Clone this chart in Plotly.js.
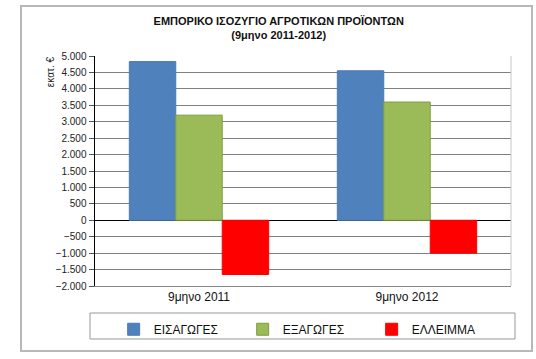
<!DOCTYPE html>
<html>
<head>
<meta charset="utf-8">
<script src="https://cdn.plot.ly/plotly-3.0.1.min.js"></script>
<style>
html,body{margin:0;padding:0;background:#fff;}
#wrap{position:relative;width:536px;height:359px;}
#chart{width:536px;height:359px;}
#frame{position:absolute;left:20px;top:5px;width:509px;height:343px;border:2px solid #b8b8b8;pointer-events:none;}
</style>
</head>
<body>
<div id="wrap"><div id="chart"></div><div id="frame"></div></div>
<script>
const categories = ["9μηνο 2011", "9μηνο 2012"];
const imports = [4830, 4550];
const exports_ = [3200, 3600];
const deficit = [-1650, -1000];
const seriesNames = ["ΕΙΣΑΓΩΓΕΣ", "ΕΞΑΓΩΓΕΣ", "ΕΛΛΕΙΜΜΑ"];

const FONT = "Liberation Sans, Arial, sans-serif";

const traces = [
  {type:'bar', name:seriesNames[0], x:categories, y:imports,
   marker:{color:'#4F81BD', line:{color:'#4A7AB5', width:1}}},
  {type:'bar', name:seriesNames[1], x:categories, y:exports_,
   marker:{color:'#9BBB59', line:{color:'#7E9E40', width:1}}},
  {type:'bar', name:seriesNames[2], x:categories, y:deficit,
   marker:{color:'#FF0000', line:{color:'#FF0000', width:1}}}
];

const layout = {
  width:536, height:359,
  margin:{l:95, r:25, t:56, b:73},
  paper_bgcolor:'#fff', plot_bgcolor:'#fff',
  font:{family:FONT, size:10, color:'#222'},
  separators:',.',
  barmode:'group', bargap:0.33, bargroupgap:0,
  showlegend:true,
  title:{text:'<b>ΕΜΠΟΡΙΚΟ ΙΣΟΖΥΓΙΟ ΑΓΡΟΤΙΚΩΝ ΠΡΟΪΟΝΤΩΝ<br>(9μηνο 2011-2012)</b>',
         font:{family:FONT, size:11, color:'#111'},
         x:0.52, xref:'container', xanchor:'center', y:0.93, yref:'container', yanchor:'middle'},
  xaxis:{type:'category', showgrid:false, zeroline:false, showline:true, linecolor:'#888', linewidth:1,
         ticks:'', tickfont:{family:FONT, size:12, color:'#111'}, fixedrange:true, automargin:false},
  yaxis:{range:[-2000,5000], dtick:500, tickformat:',d', showgrid:true, gridcolor:'#808080', gridwidth:1,
         zeroline:true, zerolinecolor:'#000', zerolinewidth:1.5, automargin:false,
         showline:true, linecolor:'#000', linewidth:1.5, ticks:'outside', ticklen:5, tickcolor:'#555',
         tickfont:{family:FONT, size:10, color:'#222'}, fixedrange:true},
  legend:{orientation:'h', x:0.51, xanchor:'center', y:-0.125, yanchor:'top',
          bgcolor:'rgba(0,0,0,0)', borderwidth:0, font:{family:FONT, size:12, color:'#111'},
          entrywidth:84, entrywidthmode:'pixels', itemwidth:30},
  annotations:[
    {text:'εκατ. €', xref:'paper', yref:'paper', x:-0.108, y:0.93, xanchor:'center', yanchor:'middle',
     textangle:-90, showarrow:false, font:{family:FONT, size:10, color:'#222'}}
  ],
  shapes:[
    {type:'rect', xref:'paper', yref:'paper', x0:-0.012, x1:1.0096, y0:-0.1174, y1:-0.2304,
     line:{color:'#999', width:1}, fillcolor:'rgba(0,0,0,0)'},
    {type:'line', xref:'paper', yref:'paper', x0:1, x1:1, y0:0, y1:1, line:{color:'#c8c8c8', width:1}}
  ]
};

Plotly.newPlot('chart', traces, layout, {displayModeBar:false, staticPlot:true});
</script>
</body>
</html>
